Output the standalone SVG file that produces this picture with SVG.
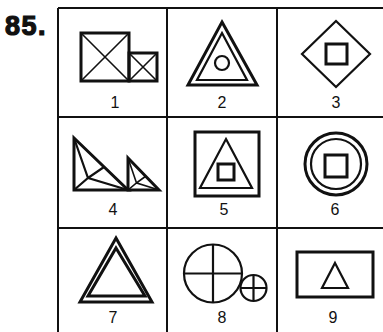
<svg xmlns="http://www.w3.org/2000/svg" width="383" height="332" viewBox="0 0 383 332">
<style>
.g{fill:none;stroke:#111;stroke-width:2}
.t{fill:none;stroke:#111;stroke-width:3;stroke-linejoin:miter}
.m{fill:none;stroke:#111;stroke-width:2.2}
.n{fill:none;stroke:#111;stroke-width:1.6}
.lbl{font-family:"Liberation Sans",Arial,sans-serif;font-size:16px;fill:#111;text-anchor:middle}
.num{font-family:"Liberation Sans",Arial,sans-serif;font-size:27px;font-weight:bold;fill:#111;stroke:#111;stroke-width:1.2;letter-spacing:1.5px}
</style>
<rect width="383" height="332" fill="#fff"/>
<text class="num" x="5" y="35">85.</text>
<g id="grid">
<path class="g" d="M58,8H390M58,117H390M58,228H390M58,8V340M167,8V340M277,8V340"/>
</g>
<g id="cell1">
<rect class="t" x="81" y="33" width="48" height="48"/>
<path class="n" d="M81,33L129,81M129,33L81,81"/>
<rect class="t" x="129" y="53" width="28" height="28"/>
<path class="n" d="M129,53L157,81M157,53L129,81"/>
<text class="lbl" x="115" y="108">1</text>
</g>
<g id="cell2">
<polygon class="t" points="222,22 257,85 188,85"/>
<polygon class="m" points="222,33 247,80 197,80"/>
<circle class="m" cx="222" cy="63" r="7"/>
<text class="lbl" x="222" y="108">2</text>
</g>
<g id="cell3">
<polygon class="m" points="336,21 370,54 336,87 302,54"/>
<rect class="t" x="326" y="44" width="21" height="20"/>
<text class="lbl" x="336" y="108">3</text>
</g>
<g id="cell4">
<polygon class="t" points="74,138 128,190 74,190"/>
<path class="m" d="M74,138L88,178L104,167M74,190L88,178L128,190"/>
<polygon class="t" points="128,158 159,190 128,190"/>
<path class="n" d="M128,158L136.5,183L146,176M128,190L136.5,183L159,190"/>
<text class="lbl" x="113" y="215">4</text>
</g>
<g id="cell5">
<rect class="t" x="195" y="132" width="64" height="64"/>
<polygon class="m" points="226,139 252,188 200,188"/>
<rect class="t" x="218" y="164" width="16" height="16"/>
<text class="lbl" x="224" y="215">5</text>
</g>
<g id="cell6">
<circle class="t" cx="336" cy="164" r="31"/>
<circle class="m" cx="336" cy="164" r="25"/>
<rect class="t" x="325" y="155" width="22" height="22"/>
<text class="lbl" x="335" y="215">6</text>
</g>
<g id="cell7">
<polygon class="t" points="116,238 152,302 80,302"/>
<polygon class="t" points="116,248 145,296 88,296"/>
<text class="lbl" x="113" y="323">7</text>
</g>
<g id="cell8">
<circle class="m" cx="213" cy="273.5" r="29"/>
<path class="m" d="M184,273.5H242M213,244.5V302.5"/>
<circle class="m" cx="253.5" cy="288" r="13"/>
<path class="m" d="M240.5,288H266.5M253.5,275V301"/>
<text class="lbl" x="222" y="323">8</text>
</g>
<g id="cell9">
<rect class="t" x="297" y="252" width="76" height="45"/>
<polygon class="m" points="335,263 348,288 322,288"/>
<text class="lbl" x="333" y="323">9</text>
</g>
</svg>
